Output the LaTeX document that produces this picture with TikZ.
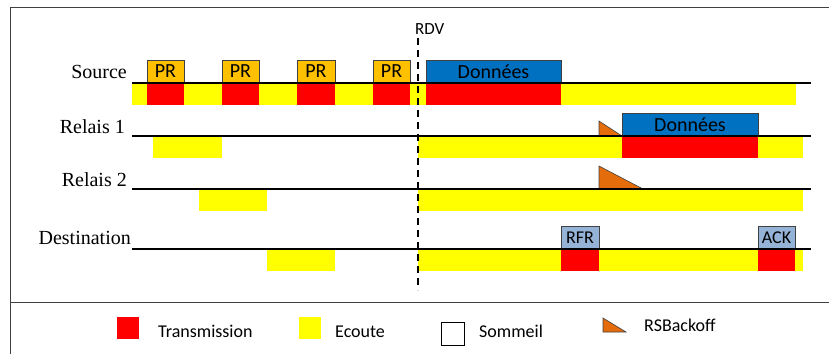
\documentclass[tikz,border=0pt]{standalone}
\usepackage{fontspec}
\setmainfont{Liberation Serif}
\newfontfamily\calibri{Carlito}
\definecolor{emisred}{HTML}{FF0000}
\definecolor{ecoutejaune}{HTML}{FFFF00}
\definecolor{prorange}{HTML}{FFC000}
\definecolor{donbleu}{HTML}{0070C0}
\definecolor{ackbleu}{HTML}{95B3D7}
\definecolor{boffcol}{HTML}{E46C0A}
\definecolor{cadre}{HTML}{404040}
\tikzset{
  nomlbl/.style={anchor=base east,inner sep=0pt,font=\fontsize{20}{24}\selectfont},
  legtxt/.style={anchor=base west,inner sep=0pt,font=\calibri\fontsize{18}{21}\selectfont},
  pkttxt/.style={inner sep=0pt,font=\calibri\fontsize{20}{24}\selectfont},
  pktpetit/.style={inner sep=0pt,font=\calibri\fontsize{18}{21}\selectfont},
  boite/.style={draw=cadre,line width=0.9pt},
  ecoute/.style={fill=ecoutejaune},
  emis/.style={fill=emisred},
  axe/.style={line width=1.6pt},
  boff/.style={fill=boffcol,draw=cadre,line width=0.6pt}
}
\begin{document}
\begin{tikzpicture}[x=1pt,y=-1pt]
  \useasboundingbox (0,0) rectangle (829,354);
  % the frame and the legend separator
  \draw[cadre,line width=1pt] (829,7) -- (10,7) -- (10,354);
  \draw[cadre,line width=1pt] (10,302) -- (829,302);
  %% node names
  \node[nomlbl] (source) at (127,78) {Source};
  \node[nomlbl] (relais1) at (125,133) {Relais 1};
  \node[nomlbl] (relais2) at (127,186) {Relais 2};
  \node[nomlbl] (dest) at (131,244) {Destination};
  %% listening periods before RDV
  \fill[ecoute] (132,83) rectangle (796,105);
  \fill[ecoute] (153,136) rectangle (222,158);
  \fill[ecoute] (199,189) rectangle (267,211);
  \fill[ecoute] (267,249) rectangle (335,271);
  % listening after RDV
  \foreach \y in {136,189,249}
    \fill[ecoute] (418,\y) rectangle (803,\y+22);
  %% preambles of the source
  \foreach \a/\b [count=\i] in {147/184,222/259,297/335,373/410}
  {
    \fill[emis] (\a,83) rectangle (\b,105);
    \draw[boite,fill=prorange] (\a,60) rectangle (\b,83);
    \node[pkttxt] (pr\i) at ({(\a+\b)/2},71.5) {PR};
  }
  %% data from the source
  \fill[emis] (426,83) rectangle (561,105);
  \draw[boite,fill=donbleu] (426,60) rectangle (561,83);
  \node[pkttxt] (donsrc) at (493.5,71.5) {Données};
  %% relay 1 forwards the data
  \fill[emis] (622,136) rectangle (758,158);
  \draw[boite,fill=donbleu] (622,113) rectangle (758,136);
  \node[pkttxt] (donrel) at (690,124.5) {Données};
  %% destination answers
  \fill[emis] (561,249) rectangle (599,271);
  \draw[boite,fill=ackbleu] (561,226) rectangle (599,249);
  \node[pktpetit] (rfr) at (580,237.5) {RFR};
  \fill[emis] (758,249) rectangle (795,271);
  \draw[boite,fill=ackbleu] (758,226) rectangle (795,249);
  \node[pktpetit] (ack) at (776.5,237.5) {ACK};
  %% backoffs
  \draw[boff] (599,136) -- (599,121) -- (622,136) -- cycle;
  \draw[boff] (599,189) -- (599,166) -- (643,189) -- cycle;
  %% time lines
  \foreach \y in {83,136,189,249}
    \draw[axe] (132,\y) -- (811,\y);
  % rendez-vous
  \draw[line width=1.4pt,dash pattern=on 7pt off 5pt] (418,38) -- (418,290);
  \node[legtxt,font=\calibri\fontsize{17}{20}\selectfont] (rdv) at (415,34) {RDV};
  %% the legend
  \fill[emis] (117,317) rectangle (139,339);
  \node[legtxt] (legtx) at (158,337) {Transmission};
  \fill[ecoute] (299,317) rectangle (321,339);
  \node[legtxt] (legec) at (335,337) {Ecoute};
  \draw[line width=1pt,fill=white] (441,322) rectangle (464,345);
  \node[legtxt] (legsom) at (479,337) {Sommeil};
  \draw[boff] (603,318) -- (603,332) -- (626,332) -- cycle;
  \node[legtxt] (legbo) at (644,331) {RSBackoff};
\end{tikzpicture}
\end{document}
